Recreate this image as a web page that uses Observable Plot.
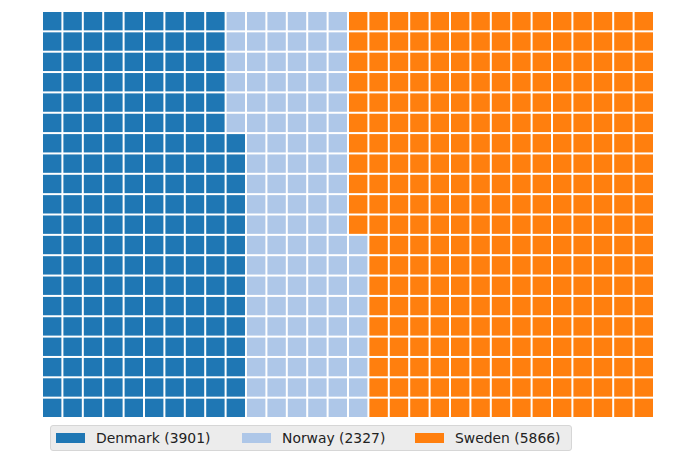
<!DOCTYPE html>
<html>
<head>
<meta charset="utf-8">
<script src="https://cdn.jsdelivr.net/npm/d3@7"></script>
<script src="https://cdn.jsdelivr.net/npm/@observablehq/plot@0.6"></script>
<style>
  body { margin: 0; background: #fff; font-family: "DejaVu Sans", sans-serif; }
  #wrap { position: relative; width: 680px; height: 463px; }
  #legend {
    position: absolute; left: 50px; top: 425px; width: 520px; height: 24px;
    background: #ececec; border: 1px solid #d6d6d6; border-radius: 3px;
    box-sizing: content-box;
  }
  .item { position: absolute; top: 0; height: 24px; display: flex; align-items: center; font-size: 13.9px; color: #222; }
  .sw { width: 29px; height: 10px; margin-right: 11px; }
</style>
</head>
<body>
<div id="wrap"></div>
<script>
const categories = ["Denmark", "Norway", "Sweden"];
const values = [3901, 2327, 5866];
const colors = ["#1f77b4", "#aec7e8", "#ff7f0e"];
const nCols = 30;
const nRows = 20;

const total = d3.sum(values);
const counts = values.map(v => Math.round(v / total * nCols * nRows));

const cells = [];
let idx = 0;
categories.forEach((c, i) => {
  for (let k = 0; k < counts[i]; k++, idx++) {
    cells.push({col: Math.floor(idx / nRows), row: idx % nRows, country: c});
  }
});

const chart = Plot.plot({
  width: 680,
  height: 421,
  marginLeft: 42,
  marginRight: 26,
  marginTop: 11,
  marginBottom: 3,
  x: {type: "band", domain: d3.range(nCols), padding: 0, round: false, axis: null},
  y: {type: "band", domain: d3.range(nRows).reverse(), padding: 0, round: false, axis: null},
  color: {domain: categories, range: colors},
  marks: [
    Plot.cell(cells, {x: "col", y: "row", fill: "country", inset: 1})
  ]
});
const wrap = document.getElementById("wrap");
wrap.appendChild(chart);

const legend = document.createElement("div");
legend.id = "legend";
const lefts = [5, 191, 364];
categories.forEach((c, i) => {
  const it = document.createElement("div");
  it.className = "item";
  it.style.left = lefts[i] + "px";
  const sw = document.createElement("div");
  sw.className = "sw";
  sw.style.background = colors[i];
  it.appendChild(sw);
  const t = document.createElement("span");
  t.textContent = `${c} (${values[i]})`;
  it.appendChild(t);
  legend.appendChild(it);
});
wrap.appendChild(legend);
</script>
</body>
</html>
